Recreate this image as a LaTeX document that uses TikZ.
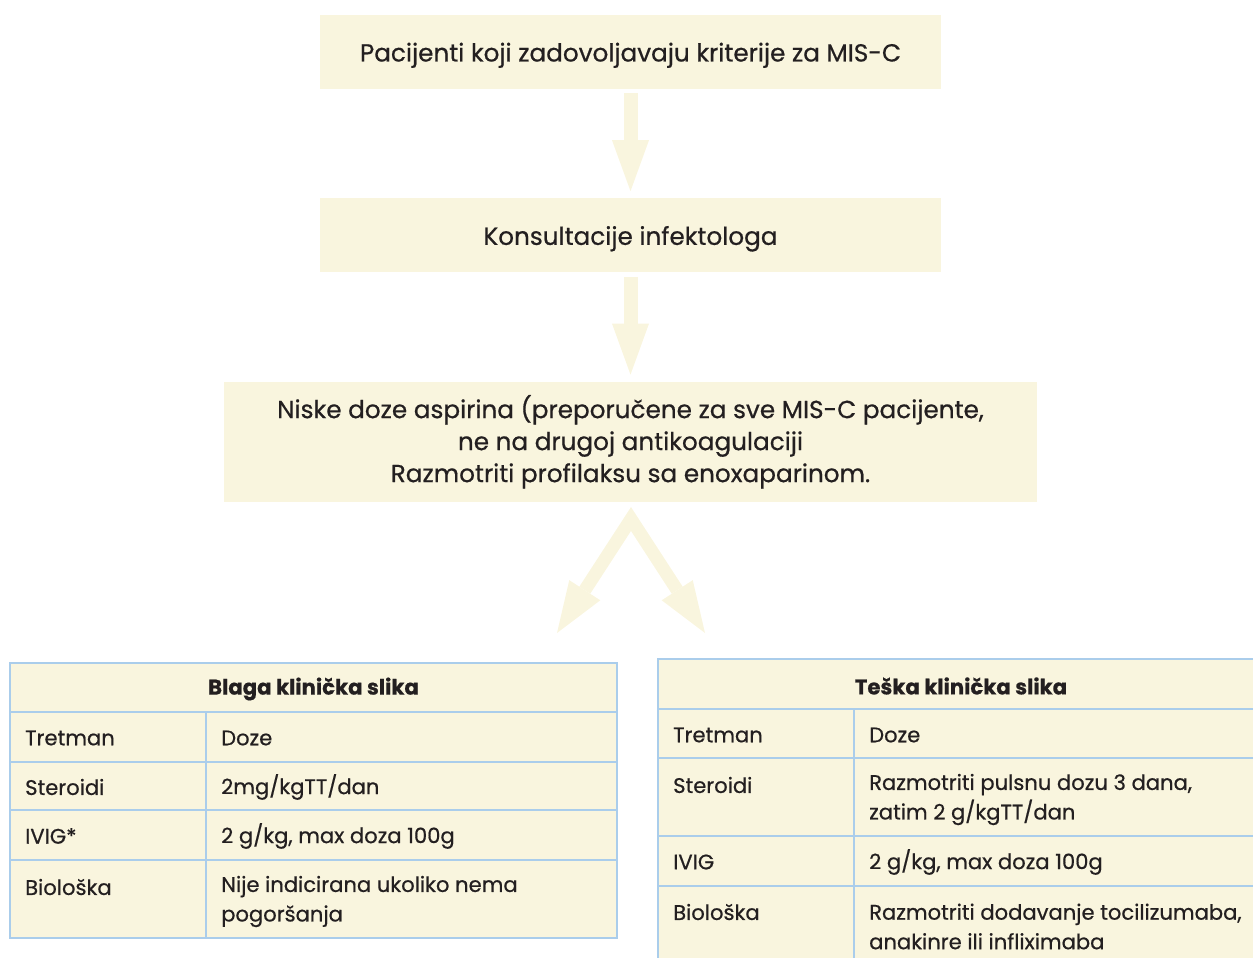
\documentclass[tikz,border=0pt]{standalone}
\usepackage{fontspec}
\setmainfont{Poppins}[FakeBold=0.6]
\usetikzlibrary{positioning, arrows.meta}
\definecolor{cream}{RGB}{249,245,222}
\definecolor{rule}{RGB}{170,205,235}
\definecolor{ink}{RGB}{35,31,32}
\tikzstyle{flowbox} = [rectangle, fill=cream, minimum width=621pt, minimum height=74pt, align=center, text=ink, font=\fontsize{24.7}{32}\selectfont]
\tikzstyle{bigarrow} = [line width=14pt, draw=cream, line join=miter, -{Triangle[width=37pt, length=51pt, line width=0pt]}]
\tikzstyle{cell} = [anchor=west, inner sep=0pt, align=left, text=ink, font=\fontsize{21.1}{29.5}\selectfont]
\tikzstyle{headcell} = [inner sep=0pt, text=ink, font=\fontsize{21.2}{29.5}\selectfont\bfseries]
\tikzstyle{grid} = [draw=rule, line width=1.5pt]

\begin{document}
\begin{tikzpicture}[x=1pt, y=-1pt, node distance=109pt]
			\useasboundingbox (0,0) rectangle (1253,958);
			\clip (0,0) rectangle (1253,958);
			%prvi dio: tri koraka
			\node (criteria) [flowbox, text height=24pt, text depth=5pt] at (630.5,52) {Pacijenti koji zadovoljavaju kriterije za MIS-C};
			\node (consult) [flowbox, text height=24pt, text depth=5pt, below=of criteria] {Konsultacije infektologa};
			\node (aspirin) [flowbox, below=of consult, minimum width=813pt, minimum height=120pt] {Niske doze aspirina (preporučene za sve MIS-C pacijente,\\ne na drugoj antikoagulaciji\\Razmotriti profilaksu sa enoxaparinom.};
			\draw [bigarrow, shorten <=4pt, shorten >=7pt] (criteria) -- (consult);
			\draw [bigarrow, shorten <=4pt, shorten >=7pt] (consult) -- (aspirin);
			%grananje
			\coordinate (split) at (631,519);
			\coordinate (mildtip) at (557,633);
			\coordinate (severetip) at (705,633);
			\draw [bigarrow, line width=13pt, {Triangle[width=37pt, length=51pt, line width=0pt]}-{Triangle[width=37pt, length=51pt, line width=0pt]}] (mildtip) -- (split) -- (severetip);
			%tablica: blaga klinicka slika
			\draw [grid, fill=cream] (10,663) rectangle (617,938);
			\draw [grid] (10,712) -- (617,712);
			\draw [grid] (10,762) -- (617,762);
			\draw [grid] (10,810) -- (617,810);
			\draw [grid] (10,860) -- (617,860);
			\draw [grid] (206,712) -- (206,938);
			\node (mildhead) [headcell] at (313.5,689) {Blaga klinička slika};
			\node (mildt) [cell] at (25,738) {Tretman};
			\node (mildd) [cell] at (221,738) {Doze};
			\node (milds) [cell] at (25,787) {Steroidi};
			\node (mildsd) [cell] at (221,787) {2mg/kgTT/dan};
			\node (mildi) [cell] at (25,836) {IVIG*};
			\node (mildid) [cell] at (221,836) {2 g/kg, max doza 100g};
			\node (mildb) [cell] at (25,887) {Biološka};
			\node (mildbd) [cell] at (221,901.5) {Nije indicirana ukoliko nema\\pogoršanja};
			%tablica: teska klinicka slika
			\draw [grid, fill=cream] (658,659) rectangle (1264,980);
			\draw [grid] (658,709) -- (1264,709);
			\draw [grid] (658,758) -- (1264,758);
			\draw [grid] (658,836) -- (1264,836);
			\draw [grid] (658,886) -- (1264,886);
			\draw [grid] (854,709) -- (854,980);
			\node (severehead) [headcell] at (961,686) {Teška klinička slika};
			\node (severet) [cell] at (673,735) {Tretman};
			\node (severed) [cell] at (869,735) {Doze};
			\node (severes) [cell] at (673,785) {Steroidi};
			\node (severesd) [cell] at (869,799.5) {Razmotriti pulsnu dozu 3 dana,\\zatim 2 g/kgTT/dan};
			\node (severei) [cell] at (673,862) {IVIG};
			\node (severeid) [cell] at (869,862) {2 g/kg, max doza 100g};
			\node (severeb) [cell] at (673,912) {Biološka};
			\node (severebd) [cell] at (869,926.5) {Razmotriti dodavanje tocilizumaba,\\anakinre ili infliximaba};
		\end{tikzpicture}
\end{document}
